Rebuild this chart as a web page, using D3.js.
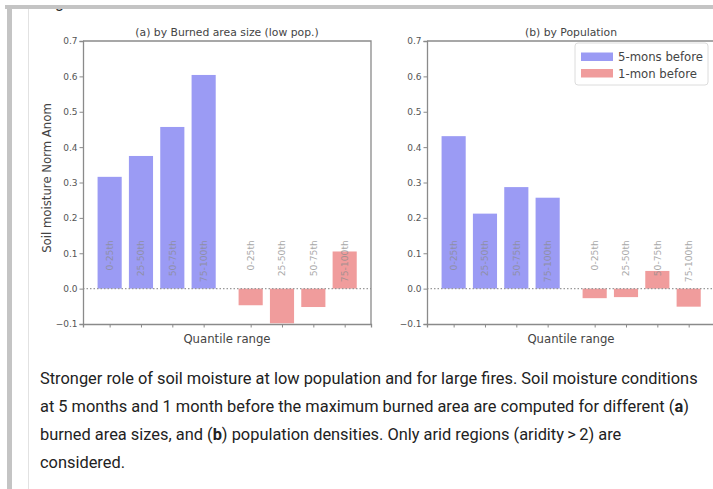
<!DOCTYPE html>
<html>
<head>
<meta charset="utf-8">
<script src="https://cdn.jsdelivr.net/npm/d3@7"></script>
<style>
  body { margin: 0; background: #fff; }
  svg { display: block; }
</style>
</head>
<body>
<div id="chart"></div>
<script>
// data
var quantiles = ["0-25th", "25-50th", "50-75th", "75-100th"];
var series = ["5-mons before", "1-mon before"];
var burnedFiveMon = [0.316, 0.375, 0.457, 0.604];
var burnedOneMon = [-0.047, -0.098, -0.052, 0.105];
var popFiveMon = [0.431, 0.212, 0.287, 0.257];
var popOneMon = [-0.027, -0.024, 0.050, -0.051];
var yTicks = [-0.1, 0.0, 0.1, 0.2, 0.3, 0.4, 0.5, 0.6, 0.7];
var captionLines = [
  ["Stronger role of soil moisture at low population and for large fires. Soil moisture conditions"],
  ["at 5 months and 1 month before the maximum burned area are computed for different (", "a", ")"],
  ["burned area sizes, and (", "b", ") population densities. Only arid regions (aridity\u2009>\u20092) are"],
  ["considered."]
];

var W = 713, H = 489;
var mpl = "'DejaVu Sans', sans-serif";
var svg = d3.select("#chart").append("svg")
  .attr("width", W).attr("height", H);

var color = d3.scaleOrdinal().domain(series).range(["#9b9bf4", "#f09c9c"]);

// page frame (top of the figure is scrolled under the bar)
svg.append("clipPath").attr("id", "gclip")
  .append("rect").attr("x", 0).attr("y", 9).attr("width", 200).attr("height", 10);
svg.append("text")
  .attr("clip-path", "url(#gclip)")
  .attr("x", 55).attr("y", 8)
  .style("font-family", "Roboto, sans-serif").style("font-size", "16px").style("fill", "#222")
  .text("g");
svg.append("rect").attr("x", 5).attr("y", 5).attr("width", W).attr("height", 4).attr("fill", "#c4c4c4");
svg.append("rect").attr("x", 7).attr("y", 5).attr("width", 5).attr("height", H).attr("fill", "#c4c4c4");
svg.append("line").attr("x1", 28.5).attr("x2", 28.5).attr("y1", 9).attr("y2", H)
  .attr("stroke", "#e2e2e2").attr("stroke-width", 1);

var y = d3.scaleLinear().domain([-0.1, 0.7]).range([324, 41]);

function slot(i) { return i < 4 ? i : i + 0.5; }

function drawPanel(left, right, title, five, one, withLegend) {
  var x = d3.scaleLinear().domain([-0.85, 8.34]).range([left, right]);
  var g = svg.append("g");
  var bw = x(0.77) - x(0);

  var bars = five.map(function(v, i) { return {s: series[0], q: quantiles[i], v: v, p: slot(i)}; })
    .concat(one.map(function(v, i) { return {s: series[1], q: quantiles[i], v: v, p: slot(i + 4)}; }));

  g.selectAll("rect.bar").data(bars).enter().append("rect")
    .attr("class", "bar")
    .attr("x", function(d) { return x(d.p) - bw / 2; })
    .attr("width", bw)
    .attr("y", function(d) { return y(Math.max(0, d.v)); })
    .attr("height", function(d) { return Math.abs(y(d.v) - y(0)); })
    .attr("fill", function(d) { return color(d.s); });

  // zero line
  g.append("line")
    .attr("x1", left).attr("x2", right).attr("y1", y(0)).attr("y2", y(0))
    .attr("stroke", "#999").attr("stroke-width", 1.2).attr("stroke-dasharray", "1.5,2");

  // quantile labels
  g.selectAll("text.ql").data(bars).enter().append("text")
    .attr("class", "ql")
    .attr("transform", function(d) { return "translate(" + (x(d.p) + 3.5) + "," + y(0.137) + ") rotate(-90)"; })
    .attr("text-anchor", "end")
    .style("font-family", mpl).style("font-size", "9.2px")
    .style("fill", "#8c8c8c").style("opacity", 0.75)
    .text(function(d) { return d.q; });

  // axes
  var yAxis = g.append("g").attr("transform", "translate(" + left + ",0)")
    .call(d3.axisLeft(y).tickValues(yTicks).tickSize(3.5).tickPadding(2)
      .tickFormat(function(d) { return d < 0 ? "\u2212" + Math.abs(d).toFixed(1) : d.toFixed(1); }));
  var xAxis = g.append("g").attr("transform", "translate(0," + y(-0.1) + ")")
    .call(d3.axisBottom(x).tickValues(bars.map(function(d) { return d.p; })).tickSize(3.5).tickFormat(""));
  [yAxis, xAxis].forEach(function(a) {
    a.select(".domain").attr("stroke", "#8a8a8a").attr("stroke-width", 1.3);
    a.selectAll(".tick line").attr("stroke", "#8a8a8a").attr("stroke-width", 1);
    a.selectAll("text").style("font-family", mpl).style("font-size", "9px").style("fill", "#555");
  });
  // top and right spines
  g.append("path")
    .attr("d", "M" + left + "," + y(0.7) + "H" + right + "V" + y(-0.1))
    .attr("fill", "none").attr("stroke", "#8a8a8a").attr("stroke-width", 1.3);

  g.append("text")
    .attr("x", (left + right) / 2).attr("y", 35.5)
    .attr("text-anchor", "middle")
    .style("font-family", mpl).style("font-size", "10.8px").style("fill", "#444")
    .text(title);

  g.append("text")
    .attr("x", (left + right) / 2).attr("y", 342.5)
    .attr("text-anchor", "middle")
    .style("font-family", mpl).style("font-size", "11.7px").style("fill", "#444")
    .text("Quantile range");

  if (withLegend) {
    var lg = g.append("g").attr("transform", "translate(575,43)");
    lg.append("rect").attr("width", 133).attr("height", 42).attr("rx", 3)
      .attr("fill", "#fff").attr("stroke", "#dcdcdc");
    series.forEach(function(s, i) {
      lg.append("rect").attr("x", 6).attr("y", 9.5 + i * 16.5).attr("width", 32).attr("height", 8.5)
        .attr("fill", color(s));
      lg.append("text").attr("x", 43).attr("y", 18 + i * 16.5)
        .style("font-family", mpl).style("font-size", "11.7px").style("fill", "#444")
        .text(s);
    });
  }
}

drawPanel(83, 371, "(a) by Burned area size (low pop.)", burnedFiveMon, burnedOneMon, false);
drawPanel(427, 715, "(b) by Population", popFiveMon, popOneMon, true);

svg.append("text")
  .attr("transform", "translate(51,178) rotate(-90)")
  .attr("text-anchor", "middle")
  .style("font-family", mpl).style("font-size", "11.7px").style("fill", "#444")
  .text("Soil moisture Norm Anom");

// caption
var cap = svg.append("g")
  .style("font-family", "Roboto, sans-serif").style("font-size", "16.4px").style("fill", "#222");
captionLines.forEach(function(parts, i) {
  var t = cap.append("text").attr("x", 40).attr("y", 384 + i * 28);
  parts.forEach(function(p, j) {
    t.append("tspan").style("font-weight", j === 1 ? "bold" : "normal").text(p);
  });
});
</script>
</body>
</html>
